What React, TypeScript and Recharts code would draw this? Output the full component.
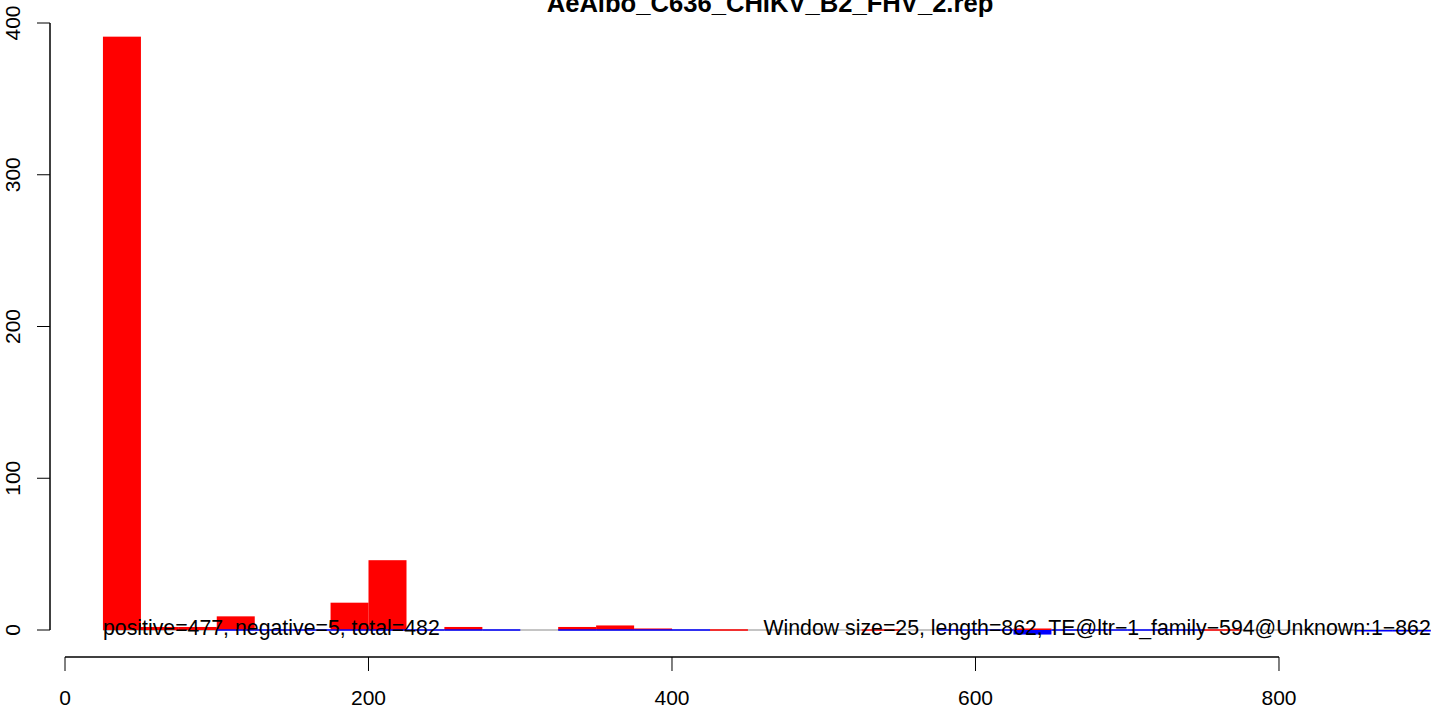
import React from 'react';
import { BarChart, Bar, XAxis, YAxis, ReferenceLine } from 'recharts';

const FONT = '"Liberation Sans", Arial, Helvetica, sans-serif';

// window starts (window size 25, bars drawn from start to start+25)
const windowStart = [25, 50, 75, 100, 125, 150, 175, 200, 225, 250, 275, 300, 325, 350, 375, 400, 425, 450,
    475, 500, 525, 550, 575, 600, 625, 650, 675, 700, 725, 750, 775, 800, 825, 850, 875];
// counts per window, null = no window drawn
const positive = [391, 2, 2, 9, null, null, 18, 46, null, 2, null, null, 2, 3, 1, null, 0, null,
    null, null, 0, null, null, null, 1, null, null, null, null, 0, null, null, null, null, null];
const negative = [null, null, null, 0, 0, 0, 0, 0, 0, 0, 0, null, 0, 0, 0, 0, null, null,
    null, null, null, null, 0, 0, -3, 0, 0, 0, 0, null, null, null, null, -1, -1];

const xTicks = [0, 200, 400, 600, 800];
const yTicks = [0, 100, 200, 300, 400];
const xDomain = [-9.885, 939.05];
const yDomain = [-17.79, 407.25];

const title = 'AeAlbo_C636_CHIKV_B2_FHV_2.rep';
const leftNote = 'positive=477, negative=5, total=482';
const rightNote = 'Window size=25, length=862, TE@ltr\u22121_family\u2212594@Unknown:1\u2212862';

const data = windowStart.map((s, i) => ({ center: s + 12.5, pos: positive[i], neg: negative[i] }));

const makeShape = (key: 'pos' | 'neg', color: string) => (props: any) => {
    const { x, y, width, height, payload } = props;
    if (!payload || payload[key] == null || x == null || isNaN(y)) return <g />;
    if (payload[key] === 0) {
        // empty window: R draws the zero-height rect as a thin line
        return <rect x={x} y={y - 0.75} width={width} height={1.5} fill={color} />;
    }
    const top = height < 0 ? y + height : y;
    return <rect x={x} y={top} width={width} height={Math.abs(height)} fill={color} />;
};

const YTick = (props: any) => {
    const { x, y, payload } = props;
    return (
        <text x={x} y={y} transform={`rotate(-90, ${x}, ${y})`} textAnchor="middle"
            fill="#000" fontSize={21} fontFamily={FONT}>{payload.value}</text>
    );
};

const baseSeg = [{ x: 25, y: 0 }, { x: 900, y: 0 }];

const App: React.FC = () => {
    return (
        <div style={{ position: 'absolute', left: 0, top: 0, width: 1444, height: 709, overflow: 'hidden', background: '#fff', fontFamily: FONT }}>
            <BarChart width={1500} height={709} data={data}
                margin={{ top: 12, right: 10, bottom: 0, left: 0 }}
                barCategoryGap={0} barGap={0}>
                <XAxis xAxisId="pos" dataKey="center" type="number" domain={xDomain} allowDataOverflow
                    ticks={xTicks} interval={0} height={52} axisLine={false}
                    tickSize={14} tickMargin={19} tickLine={{ stroke: '#000' }}
                    tick={{ fill: '#000', fontSize: 21, fontFamily: FONT }} />
                <XAxis xAxisId="neg" dataKey="center" type="number" domain={xDomain} allowDataOverflow
                    hide height={0} />
                <YAxis type="number" domain={yDomain} allowDataOverflow ticks={yTicks} interval={0}
                    width={50} axisLine={false} tickSize={13} tickMargin={17}
                    tickLine={{ stroke: '#000' }} tick={<YTick />} />

                {/* gray baseline, under the bars */}
                <ReferenceLine xAxisId="pos" segment={baseSeg} stroke="#8a8a8a" strokeWidth={1} zIndex={250} />

                <Bar xAxisId="pos" dataKey="pos" fill="#ff0000" isAnimationActive={false}
                    shape={makeShape('pos', '#ff0000')} />
                <Bar xAxisId="neg" dataKey="neg" fill="#0000ff" isAnimationActive={false}
                    shape={makeShape('neg', '#0000ff')} />

                {/* notes sit on top of the bars */}
                <ReferenceLine xAxisId="pos" segment={baseSeg} stroke="#8a8a8a" strokeOpacity={0}
                    label={(p: any) => (
                        <text x={p.viewBox.x} y={p.viewBox.y + 5} fill="#000" fontSize={21.3}
                            fontFamily={FONT} textAnchor="start">{leftNote}</text>
                    )} />
                <ReferenceLine xAxisId="pos" segment={baseSeg} stroke="#8a8a8a" strokeOpacity={0}
                    label={(p: any) => (
                        <text x={p.viewBox.x + p.viewBox.width} y={p.viewBox.y + 5} fill="#000" fontSize={21.3}
                            fontFamily={FONT} textAnchor="end">{rightNote}</text>
                    )} />

                <ReferenceLine xAxisId="pos" segment={[{ x: 0, y: yDomain[0] }, { x: 800, y: yDomain[0] }]}
                    stroke="#000" strokeWidth={1.5} />
                <ReferenceLine xAxisId="pos" segment={[{ x: xDomain[0], y: 0 }, { x: xDomain[0], y: 400 }]}
                    stroke="#000" strokeWidth={1.5} />
            </BarChart>
            <div style={{ position: 'absolute', left: 50, width: 1440, top: -10, textAlign: 'center',
                fontWeight: 'bold', fontSize: 25.6, lineHeight: '26px', color: '#000' }}>
                {title}
            </div>
        </div>
    );
};

export default App;
